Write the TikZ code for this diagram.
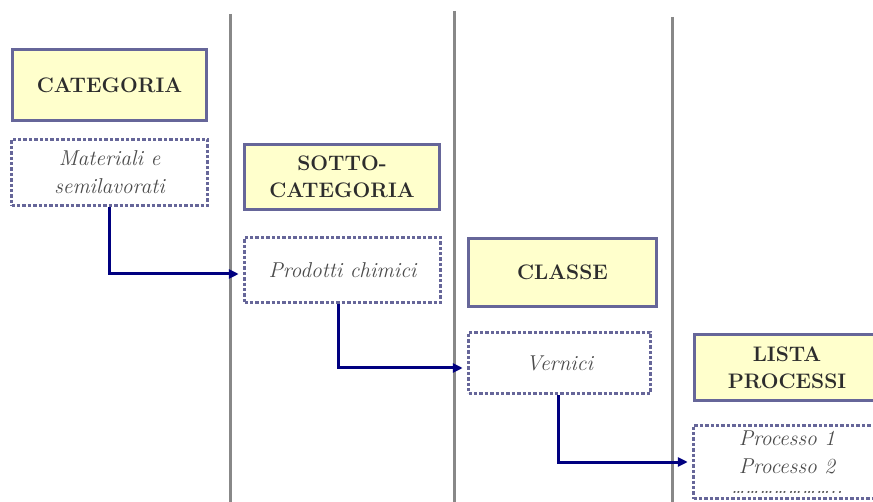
\documentclass[tikz,border=0pt]{standalone}
\usetikzlibrary{arrows.meta}
\definecolor{frameblue}{RGB}{102,102,153}
\definecolor{paleyellow}{RGB}{255,255,204}
\definecolor{arrownavy}{RGB}{0,0,128}
\definecolor{rulegray}{RGB}{136,136,136}
\definecolor{headtext}{RGB}{45,45,45}
\definecolor{itemtext}{RGB}{75,75,75}
\tikzset{
  levelbox/.style={draw=frameblue, line width=3.5pt, fill=paleyellow,
    align=center, text=headtext, inner sep=0pt,
    font=\fontsize{21}{27}\selectfont\bfseries},
  itembox/.style={draw=frameblue, line width=3.5pt, dash pattern=on 3.4pt off 2pt,
    fill=white, align=center, text=itemtext, inner sep=0pt,
    font=\fontsize{21.5}{28}\selectfont\itshape},
  divider/.style={draw=rulegray, line width=3pt},
  flow/.style={draw=arrownavy, line width=3pt,
    -{Triangle[length=10pt,width=9pt]}, shorten >=4pt}
}
\begin{document}
\begin{tikzpicture}[x=1pt,y=-1pt]
\useasboundingbox (0,0) rectangle (873,502);
\clip (0,0) rectangle (873,502);

% column dividers
\coordinate (d1t) at (230,14); \coordinate (d1b) at (230,502);
\coordinate (d2t) at (454,11); \coordinate (d2b) at (454,502);
\coordinate (d3t) at (672,17); \coordinate (d3b) at (672,502);
\draw[divider] (d1t) -- (d1b);
\draw[divider] (d2t) -- (d2b);
\draw[divider] (d3t) -- (d3b);

% level headers
\node[levelbox, minimum width=194pt, minimum height=71pt] (cat) at (109.5,85) {CATEGORIA};
\node[levelbox, minimum width=195pt, minimum height=65pt] (sotto) at (342,177) {SOTTO-\\CATEGORIA};
\node[levelbox, minimum width=188pt, minimum height=68pt] (classe) at (562.5,272.5) {CLASSE};
\node[levelbox, minimum width=185pt, minimum height=66pt] (lista) at (787,367.5) {LISTA\\PROCESSI};

% example entries
\node[itembox, minimum width=196pt, minimum height=66pt] (mat) at (109.5,172.5) {Materiali e\\semilavorati};
\node[itembox, minimum width=196pt, minimum height=65pt] (prod) at (342.5,270) {Prodotti chimici};
\node[itembox, minimum width=182pt, minimum height=61pt] (vern) at (559.5,363) {Vernici};
\node[itembox, minimum width=187pt, minimum height=73pt] (proc) at (787,462)
  {Processo 1\\Processo 2\\[-8pt]\ldots\ldots\ldots\ldots\ldots\ldots\ldots..};

% drill-down connectors
\draw[flow] (mat.south) |- ([yshift=-4pt]prod.west);
\draw[flow] ([xshift=-4.5pt]prod.south) |- ([yshift=-5pt]vern.west);
\draw[flow] ([xshift=-1.5pt]vern.south) |- (proc.west);
\end{tikzpicture}
\end{document}
